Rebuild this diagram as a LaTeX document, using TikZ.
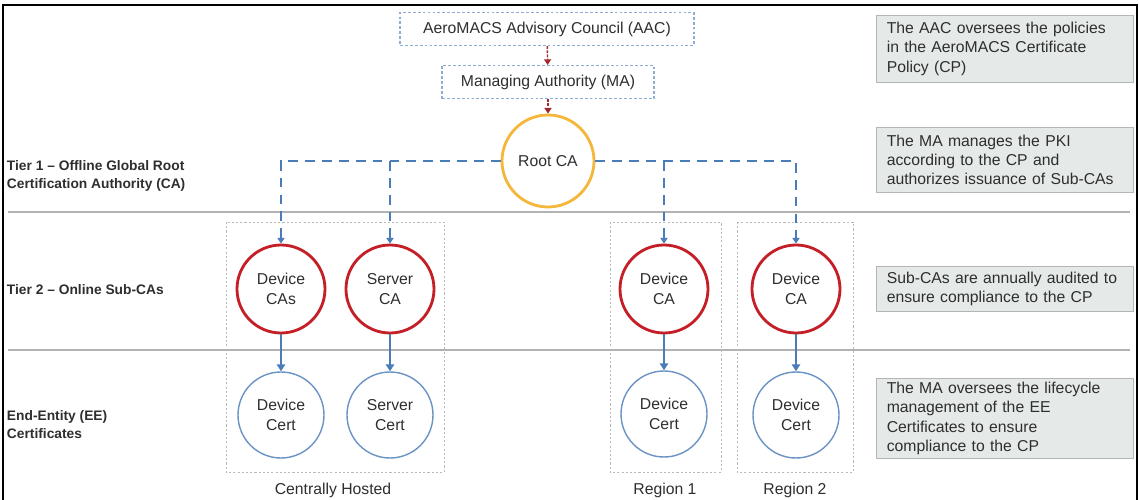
\documentclass[tikz,border=0pt]{standalone}
\usepackage{fontspec}
\setmainfont{Liberation Sans}
\usetikzlibrary{arrows.meta}

\definecolor{subred}{HTML}{C41E26}
\definecolor{rootgold}{HTML}{F5B73B}
\definecolor{linkblue}{HTML}{4A7DB8}
\definecolor{certblue}{HTML}{6B93C5}
\definecolor{govblue}{HTML}{8CACD4}
\definecolor{govred}{HTML}{A3282B}
\definecolor{notefill}{HTML}{E5EAE9}
\definecolor{notedraw}{HTML}{B2B7B6}
\definecolor{txt}{HTML}{2E2E2E}

\tikzset{
  govbox/.style={draw=govblue, line width=0.8pt, dash pattern=on 2pt off 1.5pt,
    minimum height=33*0.025cm, inner sep=0pt},
  subca/.style={circle, draw=subred, line width=2pt, minimum size=88*0.025cm,
    inner sep=0pt, align=center},
  eecert/.style={circle, draw=certblue, line width=1pt, minimum size=86*0.025cm,
    inner sep=0pt, align=center},
  rootca/.style={circle, draw=rootgold, line width=2pt, minimum size=92*0.025cm,
    inner sep=0pt},
  groupbox/.style={draw=gray!55, line width=0.6pt, dash pattern=on 1.5pt off 1.5pt},
  note/.style={draw=notedraw, fill=notefill, line width=0.6pt, anchor=north west,
    align=left, text width=5.9cm, inner xsep=0.26cm, inner ysep=0pt},
  tier/.style={anchor=west, align=left, font=\bfseries\fontsize{9.8}{12.8}\selectfont},
  sep/.style={draw=gray!60, line width=1.1pt},
  govlink/.style={draw=govred, line width=1pt, dash pattern=on 2pt off 1pt,
    -{Triangle[length=4pt,width=5pt]}},
  rootlink/.style={draw=linkblue, line width=2pt, dash pattern=on 7pt off 5pt,
    -{Triangle[length=4pt,width=5pt]}},
  leaflink/.style={draw=linkblue, line width=1.4pt, -{Triangle[length=5pt,width=6pt]}},
}

\begin{document}
\begin{tikzpicture}[x=0.025cm, y=-0.025cm, text=txt,
    font=\fontsize{11.2}{13.8}\selectfont]
  \useasboundingbox (0,0) rectangle (1140,500);
  \draw [line width=1.2pt] (3,500) -- (3,5) -- (1137,5) -- (1137,500);

  % tier separators and labels
  \draw [sep] (8,212) -- (1130,212);
  \draw [sep] (8,350) -- (1130,350);
  \node [tier] (t1) at (2,176) {Tier 1 -- Offline Global Root\\Certification Authority (CA)};
  \node [tier] (t2) at (2,290) {Tier 2 -- Online Sub-CAs};
  \node [tier] (t3) at (2,425) {End-Entity (EE)\\Certificates};

  % groups
  \draw [groupbox] (226,222) rectangle (444,472);
  \draw [groupbox] (610,222) rectangle (721,472);
  \draw [groupbox] (737,222) rectangle (853,472);
  \node (gc) at (333,490) {Centrally Hosted};
  \node (g1) at (665,490) {Region 1};
  \node (g2) at (795,490) {Region 2};

  % governance
  \node [govbox, minimum width=294*0.025cm] (aac) at (547,29) {AeroMACS Advisory Council (AAC)};
  \node [govbox, minimum width=212*0.025cm] (ma) at (548,82) {Managing Authority (MA)};
  \node [rootca] (root) at (548,161) {Root CA};
  \draw [govlink] (aac) -- (ma);
  \draw [govlink] (ma) -- (root);

  % sub-CAs and certificates
  \node [subca] (dca) at (281,289) {Device\\CAs};
  \node [subca] (sca) at (390,289) {Server\\CA};
  \node [subca] (rca) at (664,289) {Device\\CA};
  \node [subca] (rcb) at (796,289) {Device\\CA};
  \node [eecert] (dce) at (281,415) {Device\\Cert};
  \node [eecert] (sce) at (390,415) {Server\\Cert};
  \node [eecert] (rce) at (664,414) {Device\\Cert};
  \node [eecert] (rde) at (796,415) {Device\\Cert};

  \coordinate (bl) at (sca.north |- root.west);
  \coordinate (br) at (rca.north |- root.east);
  \draw [rootlink] (root.west) -| (dca.north);
  \draw [rootlink] (bl) -- (sca.north);
  \draw [rootlink] (root.east) -| (rcb.north);
  \draw [rootlink] (br) -- (rca.north);

  \draw [leaflink] (dca) -- (dce);
  \draw [leaflink] (sca) -- (sce);
  \draw [leaflink] (rca) -- (rce);
  \draw [leaflink] (rcb) -- (rde);

  % notes
  \node [note, minimum height=67*0.025cm] (n1) at (876,15)
    {The AAC oversees the policies\\in the AeroMACS Certificate\\Policy (CP)};
  \node [note, minimum height=65*0.025cm] (n2) at (876,127)
    {The MA manages the PKI\\according to the CP and\\authorizes issuance of Sub-CAs};
  \node [note, minimum height=45*0.025cm] (n3) at (876,266)
    {Sub-CAs are annually audited to\\ensure compliance to the CP};
  \node [note, minimum height=80*0.025cm] (n4) at (876,378)
    {The MA oversees the lifecycle\\management of the EE\\Certificates to ensure\\compliance to the CP};
\end{tikzpicture}
\end{document}
